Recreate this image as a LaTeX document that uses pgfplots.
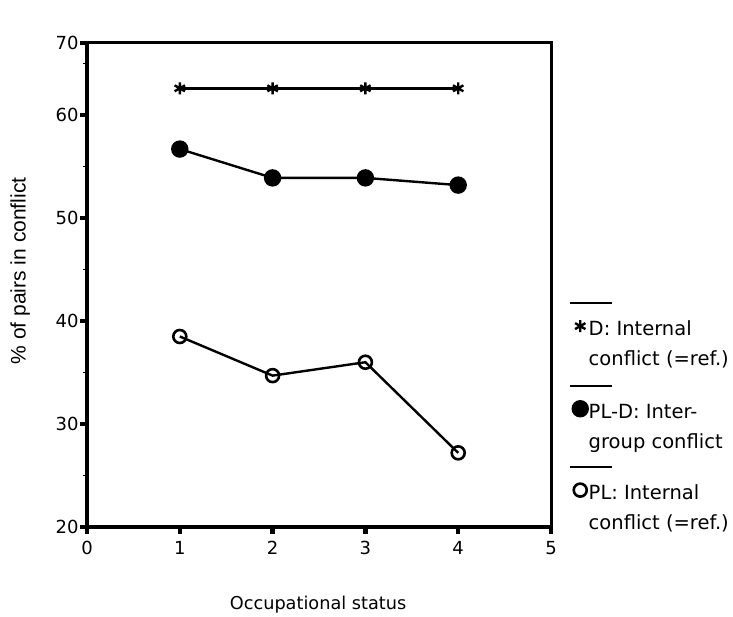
\documentclass[border=0pt]{standalone}
\usepackage{fontspec}
\setmainfont{DejaVu Sans}
\newfontfamily\arialfont{Liberation Sans}
\usepackage{pgfplots}
\pgfplotsset{compat=1.18}
\begin{document}
\begin{tikzpicture}
\path[use as bounding box] (0,0) rectangle (733bp,617bp);
\begin{axis}[
  at={(87bp,90bp)}, anchor=south west,
  scale only axis, width=464bp, height=484bp,
  xmin=0, xmax=5, ymin=20, ymax=67,
  axis line style={line width=3bp},
  xtick={0,1,2,3,4,5}, xticklabels={0,1,2,3,4,5},
  ytick={20,30,40,50,60,67}, yticklabels={20,30,40,50,60,70},
  minor ytick={25,35,45,55,65},
  xtick pos=bottom, ytick pos=left,
  tick align=outside,
  major tick length=7bp, minor tick length=4bp,
  tick style={line width=4.5bp, black},
  major tick style={line width=4.5bp, black},
  minor tick style={line width=1.5bp, black},
  tick label style={font=\fontsize{18bp}{20bp}\selectfont},
  xticklabel style={yshift=-4bp},
  yticklabel style={xshift=2bp},
  xlabel={Occupational status},
  xlabel style={font=\fontsize{17.7bp}{20bp}\selectfont, at={(axis description cs:0.498,-0.161)}, anchor=center},
  ylabel={\arialfont\% of pairs in conflict},
  ylabel style={font=\fontsize{21bp}{22bp}\selectfont, at={(axis description cs:-0.144,0.529)}, anchor=center, rotate=0},
  legend style={at={(axis description cs:1.04,0.432)}, anchor=north west, draw=none, fill=none,
    font=\fontsize{19.5bp}{30bp}\selectfont, row sep=34bp, column sep=1bp,
    nodes={align=left, inner sep=0pt}},
  legend cell align=left,
  legend image code/.code={
    \draw[overlay, line width=2.4bp] (-10bp,41bp) -- (32bp,41bp);
    \draw[#1] plot coordinates {(0bp,18bp)};
  },
]
\addplot[black, line width=2.4bp, mark=asterisk, mark size=6bp, mark options={line width=2.4bp}]
  coordinates {(1,62.6)(2,62.6)(3,62.6)(4,62.6)};
\addlegendentry{D: Internal\\conflict (=ref.)}
\addplot[black, line width=2.4bp, mark=*, mark size=7.5bp]
  coordinates {(1,56.7)(2,53.9)(3,53.9)(4,53.2)};
\addlegendentry{PL-D: Inter-\\group conflict}
\addplot[black, line width=2.4bp, mark=o, mark size=6.5bp, mark options={fill=white, line width=2.6bp}]
  coordinates {(1,38.5)(2,34.7)(3,36.0)(4,27.2)};
\addlegendentry{PL: Internal\\conflict (=ref.)}
\end{axis}
\end{tikzpicture}
\end{document}
